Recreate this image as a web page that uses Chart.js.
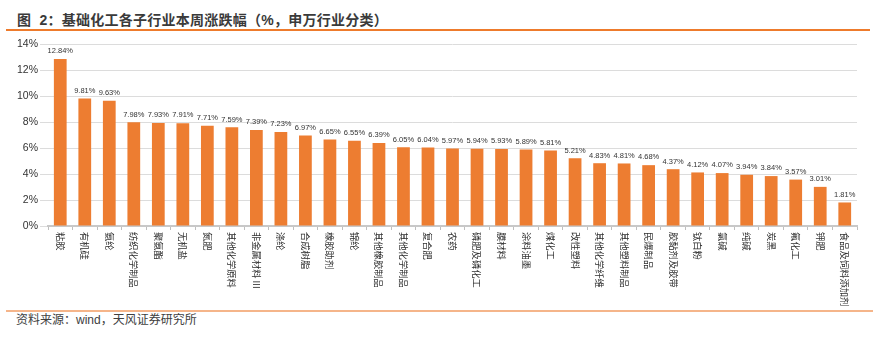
<!DOCTYPE html>
<html><head><meta charset="utf-8">
<script src="https://cdn.jsdelivr.net/npm/chart.js@4/dist/chart.umd.min.js"></script>
<style>
html,body{margin:0;padding:0;background:#fff;}
body{width:880px;height:340px;position:relative;overflow:hidden;font-family:"Liberation Sans","Noto Sans CJK SC",sans-serif;}
#title{position:absolute;left:17px;top:10px;font-size:14px;font-weight:bold;color:#3a3a3a;white-space:nowrap;line-height:20px;letter-spacing:0.25px;}
#line1{position:absolute;left:6px;top:29px;width:864px;height:2px;background:#EE7B2C;}
#wrap{position:absolute;left:0;top:32px;width:880px;height:276px;}
#line2{position:absolute;left:6px;top:310px;width:867px;height:2px;background:#F5B58A;}
#src{position:absolute;left:16px;top:312px;font-size:12px;color:#404040;white-space:nowrap;line-height:16px;}
</style></head>
<body>
<div id="title">图&nbsp;&nbsp;2：基础化工各子行业本周涨跌幅（%，申万行业分类）</div>
<div id="line1"></div>
<div id="wrap"><canvas id="c" width="880" height="276"></canvas></div>
<div id="line2"></div>
<div id="src">资料来源：wind，天风证券研究所</div>
<script>
const categories = ["粘胶","有机硅","氨纶","纺织化学制品","聚氨酯","无机盐","氮肥","其他化学原料","非金属材料 III","涤纶","合成树脂","橡胶助剂","锦纶","其他橡胶制品","其他化学制品","复合肥","农药","磷肥及磷化工","膜材料","涂料油墨","煤化工","改性塑料","其他化学纤维","其他塑料制品","民爆制品","胶黏剂及胶带","钛白粉","氯碱","纯碱","炭黑","氟化工","钾肥","食品及饲料添加剂"];
const weeklyChange = [12.84,9.81,9.63,7.98,7.93,7.91,7.71,7.59,7.39,7.23,6.97,6.65,6.55,6.39,6.05,6.04,5.97,5.94,5.93,5.89,5.81,5.21,4.83,4.81,4.68,4.37,4.12,4.07,3.94,3.84,3.57,3.01,1.81];
const yTicks = [0,2,4,6,8,10,12,14];

const FONT = '"Liberation Sans","Noto Sans CJK SC",sans-serif';

const labelPlugin = {
  id: 'customLabels',
  afterDatasetsDraw(chart) {
    const ctx = chart.ctx;
    const meta = chart.getDatasetMeta(0);
    ctx.save();
    ctx.font = '7.5px ' + FONT;
    ctx.fillStyle = '#333333';
    ctx.textAlign = 'center';
    ctx.textBaseline = 'bottom';
    meta.data.forEach((bar, i) => {
      ctx.fillText(weeklyChange[i].toFixed(2) + '%', bar.x, bar.y - 4);
    });
    ctx.restore();
  },
  afterDraw(chart) {
    const ctx = chart.ctx;
    const xs = chart.scales.x;
    const y0 = chart.chartArea.bottom + 6;
    ctx.save();
    ctx.font = '9.3px "Noto Sans CJK SC",' + FONT;
    ctx.fillStyle = '#2f2f2f';
    ctx.textAlign = 'left';
    ctx.textBaseline = 'middle';
    categories.forEach((c, i) => {
      const x = xs.getPixelForValue(i);
      ctx.save();
      ctx.translate(x, y0);
      ctx.rotate(Math.PI / 2);
      ctx.fillText(c, 0, 0);
      ctx.restore();
    });
    ctx.restore();
  }
};

new Chart(document.getElementById('c'), {
  type: 'bar',
  data: {
    labels: categories,
    datasets: [{
      data: weeklyChange,
      backgroundColor: '#ED7D31',
      borderWidth: 0,
      barPercentage: 0.52,
      categoryPercentage: 1.0
    }]
  },
  options: {
    responsive: false,
    animation: false,
    layout: { padding: { left: 0, right: 23, top: 12, bottom: 0 } },
    plugins: { legend: { display: false }, tooltip: { enabled: false } },
    scales: {
      x: {
        ticks: { display: false },
        grid: { drawOnChartArea: false, drawTicks: true, tickLength: 4, color: '#BFBFBF', offset: true },
        border: { display: true, color: '#C8C8C8', width: 2 },
        afterFit(s) { s.height = 82; }
      },
      y: {
        min: 0, max: 14,
        afterBuildTicks(s) { s.ticks = yTicks.map(v => ({ value: v })); },
        ticks: {
          padding: 2,
          color: '#333333',
          font: { size: 10.5, family: FONT },
          callback: v => v + '%'
        },
        grid: { color: '#DCDCDC', lineWidth: 1, tickLength: 8 },
        border: { display: false },
        afterFit(s) { s.width = 48; }
      }
    }
  },
  plugins: [labelPlugin]
});
</script>
</body></html>
